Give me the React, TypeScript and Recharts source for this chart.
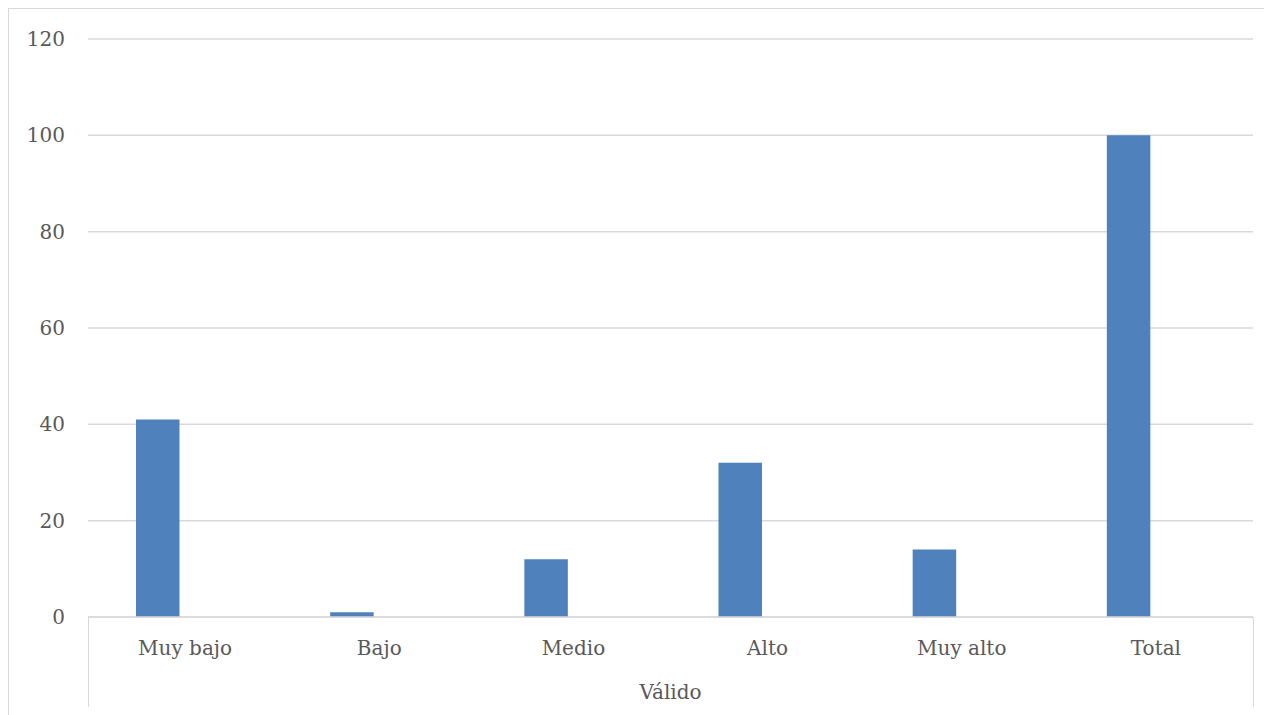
import React from 'react';
import { BarChart, Bar, XAxis, YAxis, CartesianGrid, Label } from 'recharts';

const CATEGORIES = ['Muy bajo', 'Bajo', 'Medio', 'Alto', 'Muy alto', 'Total'];
const FRECUENCIA = [41, 1, 12, 32, 14, 100];
// second (empty) series in the original sheet, it only shifts the visible bars left
const SEGUNDA = [null, null, null, null, null, null];
const Y_TICKS = [0, 20, 40, 60, 80, 100, 120];
const GROUP_LABEL = 'Válido';

const data = CATEGORIES.map((name, i) => ({ name, frecuencia: FRECUENCIA[i], segunda: SEGUNDA[i] }));

const TEXT = '#595959';
const GRID = '#d9d9d9';

export default function App() {
  return (
    <div
      style={{
        position: 'relative',
        width: 1264,
        height: 707,
        boxSizing: 'border-box',
        borderTop: `1px solid ${GRID}`,
        borderLeft: `1px solid ${GRID}`,
        fontFamily: '"DejaVu Serif", serif',
        overflow: 'hidden',
      }}
    >
      <BarChart
        width={1255}
        height={698}
        data={data}
        margin={{ top: 30, right: 11, bottom: 0, left: 0 }}
        barGap={11}
      >
        <CartesianGrid vertical={false} stroke={GRID} strokeWidth={1.5} />
        <XAxis
          dataKey="name"
          height={90}
          axisLine={{ stroke: GRID, strokeWidth: 1.5 }}
          tickLine={false}
          tickSize={0}
          tickMargin={24}
          tick={{ fill: TEXT, fontSize: 20 }}
          interval={0}
        >
          <Label value={GROUP_LABEL} position="insideTop" offset={68} fill={TEXT} fontSize={20} />
        </XAxis>
        <YAxis
          width={79}
          domain={[0, 120]}
          ticks={Y_TICKS}
          axisLine={false}
          tickLine={false}
          tickSize={0}
          tickMargin={23}
          tick={{ fill: TEXT, fontSize: 20 }}
        />
        <Bar dataKey="frecuencia" fill="#4f81bd" barSize={43.5} isAnimationActive={false} />
        <Bar dataKey="segunda" fill="#c0504d" barSize={43.5} isAnimationActive={false} />
      </BarChart>
      <div style={{ position: 'absolute', left: 79, top: 608, width: 1, height: 90, background: GRID }} />
      <div style={{ position: 'absolute', left: 1244, top: 608, width: 1, height: 90, background: GRID }} />
    </div>
  );
}
